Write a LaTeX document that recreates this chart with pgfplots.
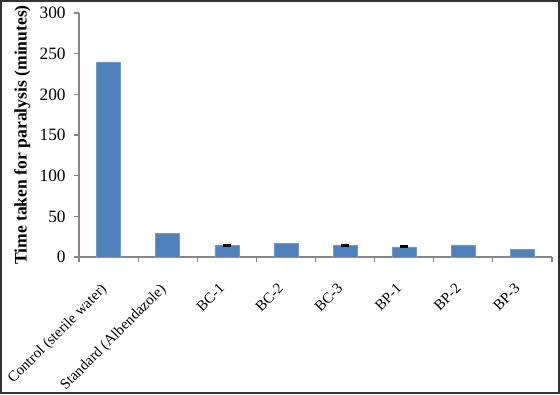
\documentclass[border=0pt]{standalone}
\usepackage{pgfplots}
\pgfplotsset{compat=1.18}
\usetikzlibrary{calc}
\usepackage{fontspec}
\setmainfont{Liberation Serif}
\definecolor{barblue}{HTML}{4F81BD}
\definecolor{baredge}{HTML}{6F9BD1}
\definecolor{axisgray}{HTML}{868686}
\pgfplotstableread{
x y
0 240
1 29
2 14
3 17
4 14
5 12.5
6 15
7 9.5
}\bars
\pgfplotstableread{
x y e
2 14 0.7
4 14 0.7
5 12.5 0.7
}\errs
\begin{document}
\begin{tikzpicture}
\begin{axis}[
  scale only axis,
  width=354.75pt, height=183pt,
  xmin=-0.5, xmax=7.5, ymin=0, ymax=300,
  axis lines=left,
  axis line style={-, axisgray, line width=0.8pt},
  ytick={0,50,...,300},
  xtick={0,...,7},
  xticklabels={Control (sterile water),Standard (Albendazole),BC-1,BC-2,BC-3,BP-1,BP-2,BP-3},
  minor xtick={-0.5,0.5,...,7.5},
  major x tick style={draw=none},
  minor x tick style={axisgray, line width=0.8pt},
  y tick style={axisgray, line width=0.8pt},
  tick align=outside,
  major tick length=4pt,
  minor tick length=4pt,
  y tick label style={font=\fontsize{13}{15}\selectfont, xshift=-2.5pt},
  x tick label style={font=\fontsize{11.2}{13}\selectfont, xshift=-6.5pt, yshift=-13.5pt, rotate=45, anchor=north east, inner sep=1pt},
  ylabel={Time taken for paralysis (minutes)},
  ylabel style={font=\bfseries\fontsize{13.2}{15}\selectfont},
  /pgf/number format/assume math mode=true,
  clip=false,
]
\addplot[ybar, bar width=18pt, bar shift=0pt, fill=barblue, draw=baredge] table[x=x,y=y]{\bars};
\addplot[draw=none, mark=none, error bars/.cd, y dir=both, y explicit,
  error bar style={black, line width=1pt},
  error mark options={rotate=90, mark size=3pt, black, line width=1.6pt}]
  table[x=x, y=y, y error=e]{\errs};
\coordinate (O) at (rel axis cs:0,0);
\end{axis}
\pgfresetboundingbox
\useasboundingbox ($(O)+(-59.25pt,-102.75pt)$) rectangle ($(O)+(360.75pt,192.75pt)$);
\draw[line width=1.2pt, black!80] ($(O)+(-58.65pt,-102.15pt)$) rectangle ($(O)+(360.15pt,192.15pt)$);
\end{tikzpicture}
\end{document}
